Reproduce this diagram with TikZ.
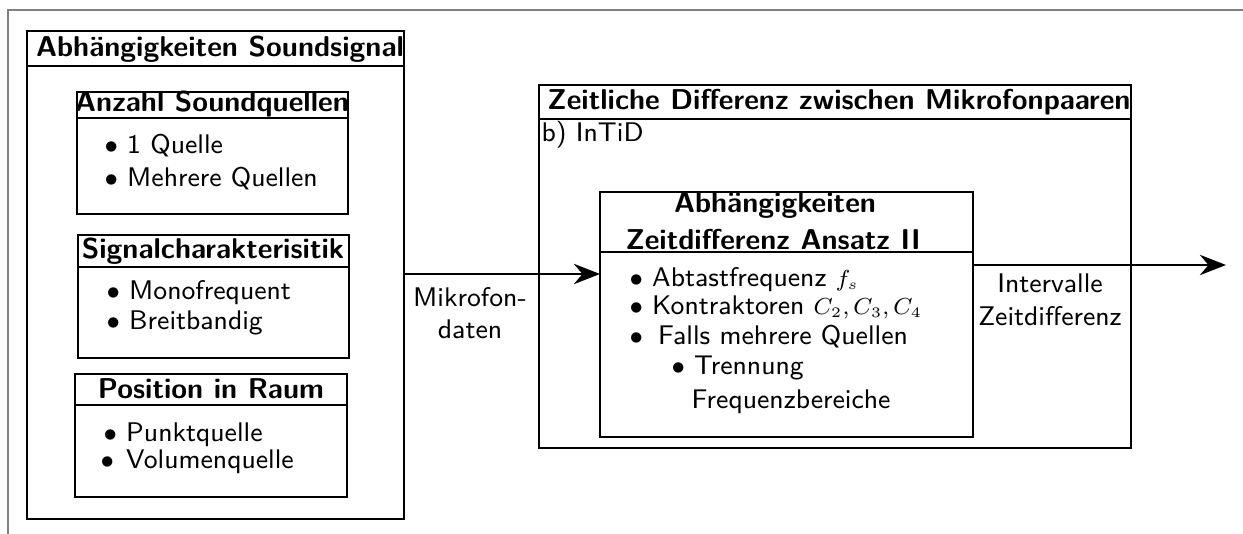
\documentclass[tikz,border=0pt]{standalone}
\usetikzlibrary{arrows.meta}
\renewcommand{\familydefault}{\sfdefault}

\newcommand{\klein}[1]{{\fontsize{7.8}{9.4}\selectfont #1}}

\tikzset{
  schrift/.style={font=\fontsize{9.3}{11.2}\selectfont},
  titel/.style={font=\fontsize{9.9}{12}\selectfont\bfseries, inner sep=0pt},
  punkt/.style={schrift, anchor=west, inner sep=0pt, text height=6pt, text depth=1.2pt},
  pfeil/.style={thick, -{Stealth[length=9pt,width=7pt]}}
}

\begin{document}
\begin{tikzpicture}[x=0.345pt, y=-0.345pt]  % 以像素为单位
  \useasboundingbox (0,0) rectangle (1243,534);

  % 外框
  \draw[gray, line width=0.5pt] (8,534) -- (8,10) -- (1243,10);

  % 左侧大框
  \draw[thick] (27,31) coordinate (sig-nw) rectangle (404,519) coordinate (sig-se);
  \draw[thick] (27,66) -- (404,66);
  \node[titel] (sig) at (220,49) {Abhängigkeiten Soundsignal};

  % 第一个小框
  \draw[thick] (77,92) rectangle (348,214);
  \draw[thick] (77,118) -- (348,118);
  \node[titel] (anzahl) at (212,104) {Anzahl Soundquellen};
  \node[punkt] (anzahl1) at (104,147) {$\bullet$ 1 Quelle};
  \node[punkt] (anzahl2) at (104,180) {$\bullet$ Mehrere Quellen};

  % 第二个小框
  \draw[thick] (78,235) rectangle (349,358);
  \draw[thick] (78,267) -- (349,267);
  \node[titel] (charakter) at (213,251) {Signalcharakterisitik};
  \node[punkt] (charakter1) at (106,293) {$\bullet$ Monofrequent};
  \node[punkt] (charakter2) at (106,323) {$\bullet$ Breitbandig};

  % 第三个小框
  \draw[thick] (75,374) rectangle (347,497);
  \draw[thick] (75,405) -- (347,405);
  \node[titel] (position) at (211,389) {Position in Raum};
  \node[punkt] (position1) at (103,435) {$\bullet$ Punktquelle};
  \node[punkt] (position2) at (100,462) {$\bullet$\hspace{1pt} Volumenquelle};

  % 右侧大框
  \draw[thick] (539,85) rectangle (1131,448);
  \draw[thick] (539,119) -- (1131,119);
  \node[titel] (differenz) at (839,102) {Zeitliche Differenz zwischen Mikrofonpaaren};
  \node[punkt] (intid) at (541,135) {b) InTiD};

  % 内框
  \draw[thick] (600,192) coordinate (ans-nw) rectangle (973,437) coordinate (ans-se);
  \draw[thick] (600,252) -- (973,252);
  \node[titel] (ansatz1) at (775,205) {Abhängigkeiten};
  \node[titel] (ansatz2) at (773,240) {Zeitdifferenz Ansatz II};
  \node[punkt] (ansatz3) at (629,280) {$\bullet$ Abtastfrequenz \klein{$f_s$}};
  \node[punkt] (ansatz4) at (629,308) {$\bullet$ Kontraktoren \klein{$C_2, C_3, C_4$}};
  \node[punkt] (ansatz5) at (629,338) {$\bullet$\hspace{2pt} Falls mehrere Quellen};
  \node[punkt] (ansatz6) at (671,368) {$\bullet$ Trennung};
  \node[punkt] (ansatz7) at (691,402) {Frequenzbereiche};

  % 箭头
  \draw[pfeil] (sig-se |- 0,274) -- (ans-nw |- 0,274);
  \draw[pfeil] (ans-se |- 0,265) -- (1226,265) coordinate (aus);
  \node[schrift, align=center] (mikro) at (470,313) {Mikrofon-\\daten};
  \node[schrift, align=center] (intervall) at (1050,300) {Intervalle\\Zeitdifferenz};

\end{tikzpicture}
\end{document}
